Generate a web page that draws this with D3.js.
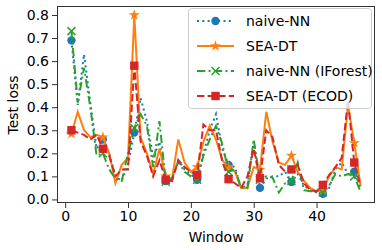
<!DOCTYPE html>
<html><head><meta charset="utf-8">
<script src="https://cdn.jsdelivr.net/npm/d3@7"></script>
<style>body{margin:0;background:#fff;} text{font-family:"DejaVu Sans",sans-serif;}</style>
</head><body>
<svg id="c" width="382" height="250"></svg>
<script>
const windows = d3.range(1, 48);
const naiveNN = [0.69,0.41,0.63,0.42,0.22,0.26,0.20,0.10,0.08,0.15,0.29,0.44,0.34,0.18,0.25,0.08,0.09,0.17,0.13,0.11,0.085,0.20,0.30,0.37,0.22,0.15,0.14,0.05,0.06,0.25,0.05,0.09,0.10,0.10,0.12,0.076,0.11,0.06,0.04,0.03,0.024,0.05,0.13,0.16,0.11,0.12,0.05];
const seaDT = [0.285,0.38,0.30,0.27,0.28,0.27,0.20,0.07,0.15,0.18,0.80,0.27,0.20,0.11,0.22,0.10,0.09,0.26,0.16,0.12,0.14,0.25,0.32,0.26,0.17,0.14,0.12,0.05,0.05,0.14,0.13,0.38,0.25,0.16,0.15,0.19,0.12,0.08,0.05,0.035,0.04,0.10,0.14,0.13,0.41,0.245,0.06];
const naiveNNIF = [0.73,0.42,0.57,0.40,0.19,0.20,0.13,0.09,0.08,0.20,0.31,0.37,0.32,0.14,0.34,0.077,0.09,0.165,0.12,0.10,0.085,0.19,0.26,0.32,0.24,0.12,0.13,0.05,0.05,0.26,0.085,0.10,0.095,0.03,0.07,0.08,0.16,0.04,0.035,0.035,0.03,0.06,0.11,0.10,0.11,0.10,0.034];
const seaDTECOD = [0.30,0.29,0.28,0.26,0.28,0.22,0.19,0.10,0.13,0.13,0.58,0.25,0.19,0.10,0.17,0.085,0.08,0.17,0.14,0.12,0.106,0.325,0.30,0.30,0.165,0.088,0.07,0.05,0.10,0.22,0.092,0.30,0.27,0.15,0.12,0.13,0.15,0.07,0.04,0.035,0.063,0.106,0.14,0.18,0.43,0.16,0.058];
const seriesNames = ["naive-NN","SEA-DT","naive-NN (IForest)","SEA-DT (ECOD)"];
const xTicks = [0,10,20,30,40];
const yTicks = [0,0.1,0.2,0.3,0.4,0.5,0.6,0.7,0.8];

const series = [
  {name: seriesNames[0], values: naiveNN, color:"#1f77b4", dash:"2,3.3", marker:"circle"},
  {name: seriesNames[1], values: seaDT, color:"#ff7f0e", dash:null, marker:"star"},
  {name: seriesNames[2], values: naiveNNIF, color:"#2ca02c", dash:"8.3,3.3,2,3.3", marker:"x"},
  {name: seriesNames[3], values: seaDTECOD, color:"#d62728", dash:"7.4,3.2", marker:"square"}
];

const L=57, R=375, T=6, B=203;
const svg = d3.select("#c");
const x = d3.scaleLinear().domain([-1.3, 49.3]).range([L, R]);
const y = d3.scaleLinear().domain([-0.0155, 0.839]).range([B, T]);

const gx = svg.append("g").attr("transform",`translate(0,${B})`)
  .call(d3.axisBottom(x).tickValues(xTicks).tickSize(5).tickPadding(3).tickFormat(d3.format("d")));
const gy = svg.append("g").attr("transform",`translate(${L},0)`)
  .call(d3.axisLeft(y).tickValues(yTicks).tickSize(5).tickPadding(3).tickFormat(d3.format(".1f")));
[gx,gy].forEach(g=>{
  g.select(".domain").remove();
  g.selectAll(".tick line").attr("stroke","#333").attr("stroke-width",1);
  g.selectAll(".tick text").attr("fill","#000").style("font-size","14px");
});

const clipId="clip";
svg.append("clipPath").attr("id",clipId).append("rect").attr("x",L).attr("y",T).attr("width",R-L).attr("height",B-T);

const line = d3.line().x((d,i)=>x(windows[i])).y(d=>y(d));
const plot = svg.append("g").attr("clip-path",`url(#${clipId})`);

function drawMarker(g, type, cx, cy, color){
  if(type==="circle") g.append("circle").attr("cx",cx).attr("cy",cy).attr("r",4.2).attr("fill",color);
  else if(type==="square") g.append("rect").attr("x",cx-4.2).attr("y",cy-4.2).attr("width",8.4).attr("height",8.4).attr("fill",color);
  else if(type==="star") g.append("path").attr("d",d3.symbol(d3.symbolStar, 38)()).attr("transform",`translate(${cx},${cy})`).attr("fill",color);
  else if(type==="x") g.append("path").attr("d",`M${cx-4},${cy-4}L${cx+4},${cy+4}M${cx-4},${cy+4}L${cx+4},${cy-4}`).attr("stroke",color).attr("stroke-width",1.5);
}

series.forEach(s=>{
  plot.append("path").datum(s.values).attr("d",line).attr("fill","none")
    .attr("stroke",s.color).attr("stroke-width",2).attr("stroke-dasharray",s.dash);
  s.values.forEach((v,i)=>{ if(i%5===0) drawMarker(plot, s.marker, x(windows[i]), y(v), s.color); });
});

svg.append("rect").attr("x",L+0.5).attr("y",T+0.5).attr("width",R-L-1).attr("height",B-T-1)
  .attr("fill","none").attr("stroke","#333").attr("stroke-width",1);

// legend
const lg = svg.append("g");
lg.append("rect").attr("x",188.5).attr("y",8.5).attr("width",183).attr("height",100).attr("rx",3)
  .attr("fill","#fff").attr("fill-opacity",0.8).attr("stroke","#ccc");
series.forEach((s,i)=>{
  const yy = 21 + i*25;
  lg.append("line").attr("x1",197).attr("x2",234).attr("y1",yy).attr("y2",yy)
    .attr("stroke",s.color).attr("stroke-width",2).attr("stroke-dasharray",s.dash);
  drawMarker(lg, s.marker, 215.5, yy, s.color);
  lg.append("text").attr("x",246).attr("y",yy+5).text(s.name).style("font-size","14px");
});

svg.append("text").attr("x",216).attr("y",242).attr("text-anchor","middle").style("font-size","14px").text("Window");
svg.append("text").attr("transform","translate(18,105) rotate(-90)").attr("text-anchor","middle").style("font-size","14px").text("Test loss");
</script>
</body></html>
